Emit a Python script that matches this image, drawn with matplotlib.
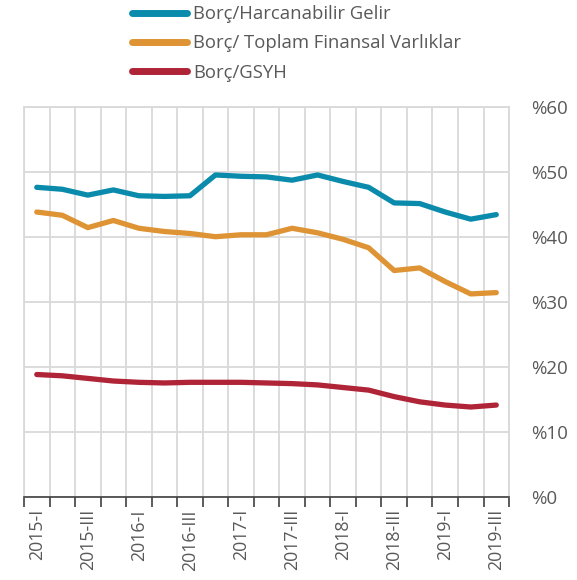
import numpy as np
import matplotlib.pyplot as plt

quarters = ["2015-I", "2015-II", "2015-III", "2015-IV",
            "2016-I", "2016-II", "2016-III", "2016-IV",
            "2017-I", "2017-II", "2017-III", "2017-IV",
            "2018-I", "2018-II", "2018-III", "2018-IV",
            "2019-I", "2019-II", "2019-III"]

borc_gelir = [47.6, 47.3, 46.4, 47.2, 46.3, 46.2, 46.3, 49.5, 49.3, 49.2,
              48.7, 49.5, 48.5, 47.6, 45.2, 45.1, 43.8, 42.7, 43.4]
borc_varlik = [43.8, 43.3, 41.4, 42.5, 41.3, 40.8, 40.5, 40.0, 40.3, 40.3,
               41.3, 40.6, 39.6, 38.3, 34.8, 35.2, 33.1, 31.2, 31.4]
borc_gsyh = [18.8, 18.6, 18.2, 17.8, 17.6, 17.5, 17.6, 17.6, 17.6, 17.5,
             17.4, 17.2, 16.8, 16.4, 15.4, 14.6, 14.1, 13.8, 14.1]

series_names = ["Borç/Harcanabilir Gelir", "Borç/ Toplam Finansal Varlıklar", "Borç/GSYH"]
colors = ["#0A8BAB", "#DE9434", "#B02437"]

plt.rcParams["font.family"] = ["Open Sans", "DejaVu Sans"]
text_col = "#595959"
grid_col = "#D9D9D9"

fig = plt.figure(figsize=(5.77, 5.80), dpi=100)
ax = fig.add_axes([0.0416, 0.1436, 0.8406, 0.6724])

x = np.arange(len(quarters))
for vals, name, c in zip([borc_gelir, borc_varlik, borc_gsyh], series_names, colors):
    ax.plot(x, vals, color=c, lw=3.8, label=name, solid_capstyle="round", zorder=3)

ax.set_xlim(-0.5, len(quarters) - 0.5)
ax.set_ylim(0, 60)

# grid at category boundaries, labels on every other quarter
bounds = np.arange(-0.5, len(quarters), 1.0)
ax.set_xticks(bounds)
ax.set_xticklabels([])
ax.set_xticks(x[::2], minor=True)
ax.set_xticklabels(quarters[::2], minor=True, rotation=90, va="top",
                   fontsize=12.8, color=text_col)
ax.tick_params(axis="x", which="major", length=7, width=1.2, color="#404040", direction="out")
ax.tick_params(axis="x", which="minor", length=0, pad=9)

yt = np.arange(0, 61, 10)
ax.set_yticks(yt)
ax.set_yticklabels(["%" + str(v) for v in yt], fontsize=13.5, color=text_col)
ax.yaxis.tick_right()
ax.tick_params(axis="y", length=0, pad=16)

ax.grid(True, which="major", color=grid_col, lw=1.3, zorder=0)
for s in ["top", "left", "right"]:
    ax.spines[s].set_color(grid_col)
    ax.spines[s].set_linewidth(1.3)
ax.spines["bottom"].set_color("#404040")
ax.spines["bottom"].set_linewidth(1.2)

leg = fig.legend(loc="upper left", bbox_to_anchor=(0.2, 1.02), frameon=False,
                 fontsize=13.3, handlelength=3.0, handletextpad=0.3, labelspacing=0.62)
for t in leg.get_texts():
    t.set_color(text_col)
for h in leg.get_lines():
    h.set_linewidth(5)

fig.savefig("out.png", dpi=100)
